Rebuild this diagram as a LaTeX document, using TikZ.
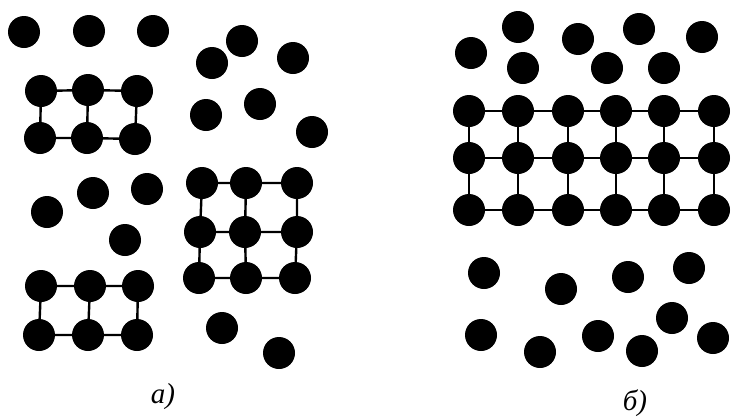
\documentclass[tikz,border=0pt]{standalone}
\usepackage{fontspec}
\setmainfont{Liberation Serif}
\begin{document}
\begin{tikzpicture}[x=1pt,y=-1pt,
  atom/.style={circle,fill=black,draw=none,minimum size=32pt,inner sep=0pt},
  bond/.style={line width=2.4pt,black},
  lbl/.style={font=\itshape\fontsize{29}{32}\selectfont}]
\useasboundingbox (0,0) rectangle (739,418);
% ---- a) free atoms
\foreach \n/\x/\y in {f1/24/32,f2/89/31,f3/153/31,f4/242/41,f5/212/63,f6/293/58,f7/206/115,f8/260/104,f9/312/132,f10/47/212,f11/93/193,f12/147/189,f13/125/240,f14/222/328,f15/279/353}
  \node[atom] (\n) at (\x,\y) {};
% ---- a) grid 1
\node[atom] (a11) at (41,91) {};
\node[atom] (a12) at (88,90) {};
\node[atom] (a13) at (137,91) {};
\node[atom] (a21) at (40,138) {};
\node[atom] (a22) at (87,138) {};
\node[atom] (a23) at (135,139) {};
\draw[bond] (a11)--(a12)--(a13) (a21)--(a22)--(a23) (a11)--(a21) (a12)--(a22) (a13)--(a23);
% ---- a) grid 2
\node[atom] (b11) at (202,183) {};
\node[atom] (b12) at (246,183) {};
\node[atom] (b13) at (297,183) {};
\node[atom] (b21) at (200,232) {};
\node[atom] (b22) at (245,232) {};
\node[atom] (b23) at (297,232) {};
\node[atom] (b31) at (199,278) {};
\node[atom] (b32) at (246,278) {};
\node[atom] (b33) at (295,278) {};
\draw[bond] (b11)--(b12)--(b13) (b21)--(b22)--(b23) (b31)--(b32)--(b33)
  (b11)--(b21)--(b31) (b12)--(b22)--(b32) (b13)--(b23)--(b33);
% ---- a) grid 3
\node[atom] (c11) at (41,286) {};
\node[atom] (c12) at (90,286) {};
\node[atom] (c13) at (138,286) {};
\node[atom] (c21) at (39,335) {};
\node[atom] (c22) at (88,335) {};
\node[atom] (c23) at (137,335) {};
\draw[bond] (c11)--(c12)--(c13) (c21)--(c22)--(c23) (c11)--(c21) (c12)--(c22) (c13)--(c23);
\node[lbl] (la) at (163,397) {а)};
% ---- b) free atoms
\foreach \n/\x/\y in {g1/471/53,g2/518/27,g3/523/68,g4/578/39,g5/607/68,g6/639/29,g7/664/68,g8/702/37,
  h1/484/273,h2/561/289,h3/628/277,h4/689/268,h5/481/335,h6/540/352,h7/598/336,h8/642/351,h9/672/318,h10/713/338}
  \node[atom] (\n) at (\x,\y) {};
% ---- b) big grid
\foreach \c/\x in {1/469,2/518,3/568,4/616,5/664,6/714}
  \foreach \r/\y in {1/111,2/158,3/210}
    \node[atom] (d\r\c) at (\x,\y) {};
\foreach \r in {1,2,3}
  \draw[bond] (d\r1)--(d\r2)--(d\r3)--(d\r4)--(d\r5)--(d\r6);
\foreach \c in {1,...,6}
  \draw[bond] (d1\c)--(d2\c)--(d3\c);
\node[lbl] (lb) at (635,403) {б)};
\end{tikzpicture}
\end{document}
